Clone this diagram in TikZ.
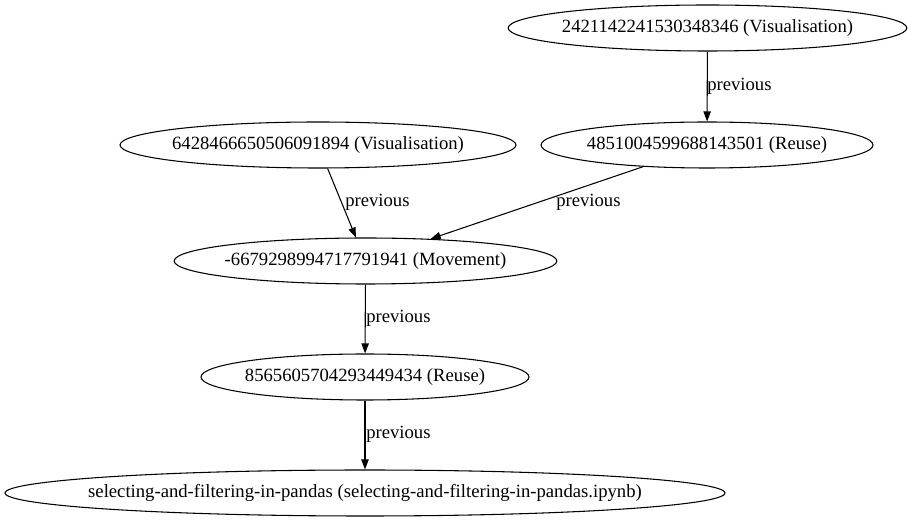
\documentclass[tikz,border=0pt]{standalone}
\usepackage{fontspec}
\setmainfont{Liberation Serif}
\usetikzlibrary{shapes.geometric,arrows.meta}
\begin{document}
\begin{tikzpicture}[x=0.75pt,y=-0.75pt,
  gnode/.style={draw,ellipse,inner sep=0pt,line width=0.8pt,font=\fontsize{14pt}{16pt}\selectfont},
  elabel/.style={anchor=west,inner sep=0pt,font=\fontsize{14pt}{16pt}\selectfont},
  edge/.style={line width=0.8pt,-{Triangle[length=7.5pt,width=5.5pt]}}]
\useasboundingbox (0,0) rectangle (911,523);
\node[gnode,minimum width=299pt,minimum height=34.5pt] (n1) at (707.5,28) {\makebox[0pt]{2421142241530348346 (Visualisation)}};
\node[gnode,minimum width=297pt,minimum height=34.5pt] (n2) at (318,145) {\makebox[0pt]{6428466650506091894 (Visualisation)}};
\node[gnode,minimum width=249pt,minimum height=34.5pt] (n3) at (707,145) {\makebox[0pt]{4851004599688143501 (Reuse)}};
\node[gnode,minimum width=287pt,minimum height=34.5pt] (n4) at (365.5,261) {\makebox[0pt]{-6679298994717791941 (Movement)}};
\node[gnode,minimum width=246pt,minimum height=34.5pt] (n5) at (365,377) {\makebox[0pt]{8565605704293449434 (Reuse)}};
\node[gnode,minimum width=540pt,minimum height=34.5pt] (n6) at (365,493) {\makebox[0pt]{selecting-and-filtering-in-pandas (selecting-and-filtering-in-pandas.ipynb)}};
\draw[edge] (n1) -- (n3);
\draw[edge] (n2) -- (n4);
\draw[edge] (n3) -- (n4);
\draw[edge] (n4) -- (n5);
\draw[edge] (n5) -- (n6);
\node[elabel] (l1) at (707,86) {previous};
\node[elabel] (l2) at (345,202) {previous};
\node[elabel] (l3) at (556,202) {previous};
\node[elabel] (l4) at (366,318) {previous};
\node[elabel] (l5) at (366,434) {previous};
\end{tikzpicture}
\end{document}
